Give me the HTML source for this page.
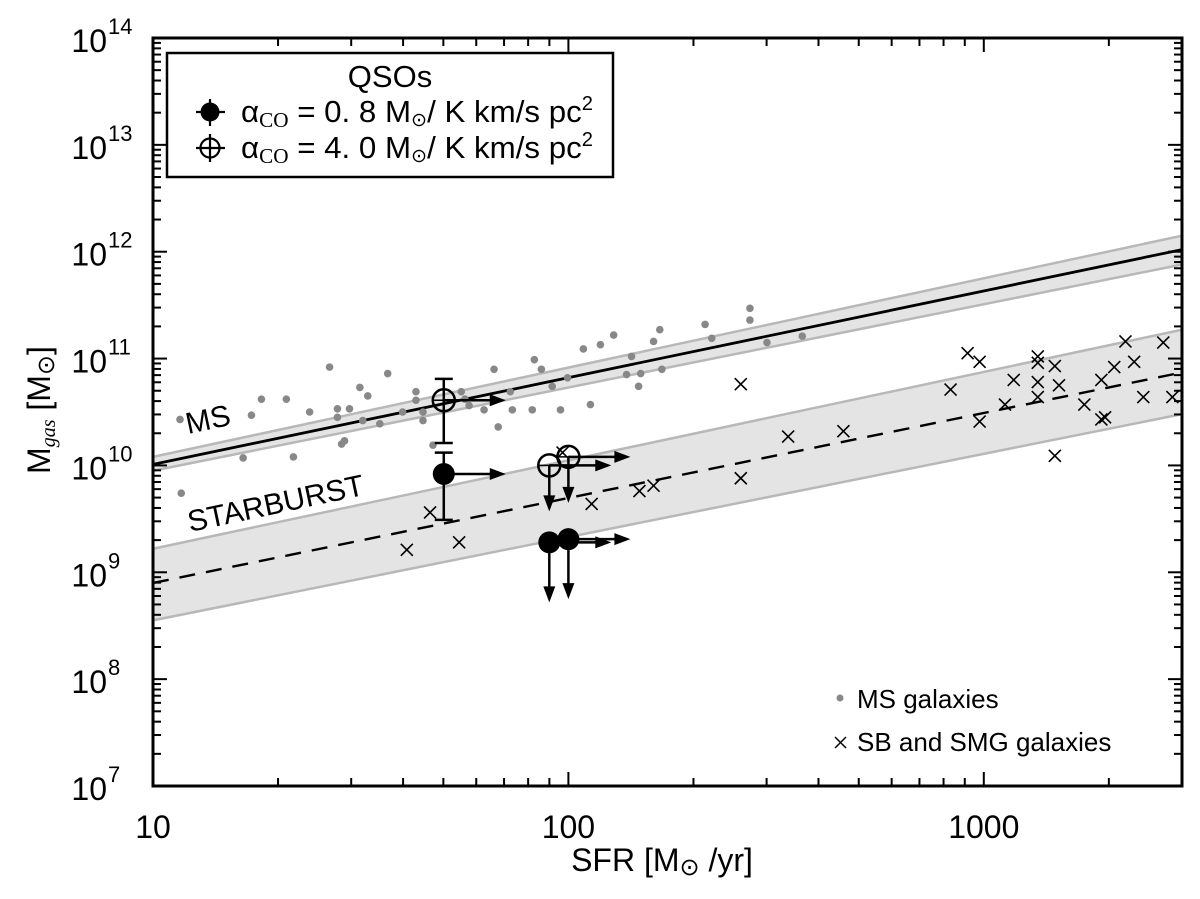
<!DOCTYPE html>
<html><head><meta charset="utf-8"><style>
body{margin:0;background:#fff;}
svg{display:block;font-family:"Liberation Sans",Arial,sans-serif;}
</style></head><body>
<svg id="chart" width="1200" height="899" viewBox="0 0 1200 899">
<g id="bands"></g>
<g id="marks"></g>
<g id="axes"></g>
<text x="188" y="434" font-size="30" transform="rotate(-12 188 434)">MS</text>
<text x="190" y="532" font-size="30" transform="rotate(-12 190 532)">STARBURST</text>
<g>
<rect x="167" y="53" width="446" height="124" fill="#fff" stroke="#000" stroke-width="2.5"/>
<text x="390" y="87" font-size="31" text-anchor="middle">QSOs</text>
<g>
<line x1="196" y1="112" x2="225" y2="112" stroke="#000" stroke-width="2.2"/><line x1="210" y1="99" x2="210" y2="126" stroke="#000" stroke-width="2.2"/>
<circle cx="210" cy="112" r="9.5" fill="#000"/>
<text x="241" y="122" font-size="31" textLength="352" lengthAdjust="spacingAndGlyphs">α<tspan font-size="21" font-family="Liberation Serif,serif" dy="5">CO</tspan><tspan dy="-5"> = 0. 8 M</tspan><tspan font-size="19" dy="4">⊙</tspan><tspan dy="-4">/ K km/s pc</tspan><tspan font-size="20" dy="-12">2</tspan></text>
</g>
<g>
<line x1="196" y1="148" x2="225" y2="148" stroke="#000" stroke-width="2.2"/><line x1="210" y1="134" x2="210" y2="162" stroke="#000" stroke-width="2.2"/>
<circle cx="210" cy="148" r="9.5" fill="none" stroke="#000" stroke-width="2.2"/>
<text x="241" y="158" font-size="31" textLength="352" lengthAdjust="spacingAndGlyphs">α<tspan font-size="21" font-family="Liberation Serif,serif" dy="5">CO</tspan><tspan dy="-5"> = 4. 0  M</tspan><tspan font-size="19" dy="4">⊙</tspan><tspan dy="-4">/ K km/s pc</tspan><tspan font-size="20" dy="-12">2</tspan></text>
</g>
</g>
<g>
<circle cx="840" cy="698" r="3.5" fill="#888"/>
<text x="857" y="708" font-size="26">MS galaxies</text>
<path d="M835 737 L846 748 M846 737 L835 748" stroke="#000" stroke-width="1.5"/>
<text x="857" y="751" font-size="26">SB and SMG galaxies</text>
</g>
<text x="662" y="871" font-size="32" text-anchor="middle">SFR [M<tspan font-size="24" dy="4">⊙</tspan><tspan dy="-4"> /yr]</tspan></text>
<text transform="translate(50 410) rotate(-90)" font-size="32" text-anchor="middle">M<tspan font-size="20" dy="5" font-family="Liberation Serif,serif" font-style="italic">gas</tspan><tspan dy="-5"> [M</tspan><tspan font-size="24" dy="4">⊙</tspan><tspan dy="-4">]</tspan></text>
</svg>
<script>
const msDots = [[1.065,10.43],[1.068,9.74],[1.217,10.07],[1.237,10.47],[1.261,10.62],[1.321,10.62],[1.338,10.08],[1.377,10.50],[1.425,10.92],[1.444,10.53],[1.444,10.45],[1.454,10.20],[1.461,10.23],[1.473,10.53],[1.498,10.73],[1.505,10.42],[1.517,10.65],[1.546,10.39],[1.565,10.86],[1.601,10.50],[1.633,10.69],[1.633,10.61],[1.650,10.50],[1.650,10.42],[1.674,10.19],[1.742,10.69],[1.751,10.62],[1.761,10.56],[1.797,10.52],[1.821,10.90],[1.831,10.36],[1.860,10.69],[1.865,10.52],[1.913,10.52],[1.918,10.99],[1.935,10.90],[1.961,10.74],[1.981,10.52],[1.998,10.82],[2.036,11.09],[2.053,10.57],[2.077,11.13],[2.109,11.22],[2.140,10.85],[2.152,11.02],[2.169,10.74],[2.174,10.86],[2.205,11.16],[2.220,11.27],[2.225,10.90],[2.329,11.32],[2.345,11.19],[2.437,11.47],[2.437,11.36],[2.478,11.15],[2.563,11.21]];
const sbCrosses = [[1.611,9.21],[1.667,9.56],[1.737,9.28],[1.986,10.12],[2.056,9.64],[2.171,9.76],[2.205,9.81],[2.415,9.88],[2.415,10.76],[2.529,10.27],[2.662,10.32],[2.920,10.71],[2.961,11.05],[2.990,10.97],[3.072,10.80],[3.051,10.57],[2.990,10.41],[3.130,11.02],[3.130,10.96],[3.130,10.78],[3.130,10.64],[3.171,10.93],[3.181,10.75],[3.171,10.09],[3.242,10.57],[3.283,10.80],[3.314,10.92],[3.283,10.43],[3.292,10.45],[3.341,11.16],[3.362,10.97],[3.384,10.64],[3.432,11.15],[3.454,10.64]];
const qsoSFR = [1.70, 1.70, 1.954, 2.0, 1.954, 2.0];
const qsoM = [10.61, 9.92, 10.00, 10.08, 9.28, 9.31];
const qsoFilled = [false, true, false, false, true, true];
const qsoErrHi = [10.81, 10.12, null, null, null, null];
const qsoErrLo = [10.21, 9.49, null, null, null, null];
const qsoUpper = [false, false, true, true, true, true];
const msLine = [10.01, 12.02];
const msBandHi = [10.08, 12.15];
const msBandLo = [9.95, 11.88];
const sbLine = [8.90, 10.87];
const sbBandHi = [9.22, 11.27];
const sbBandLo = [8.55, 10.48];
const xTicks = ["10","100","1000"];
const yTicks = ["7","8","9","10","11","12","13","14"];

const X0=153, X1=1182, Y0=38, Y1=786;
const LX0=1, LX1=Math.log10(3000), LY0=7, LY1=14;
const sx = l => X0 + (l-LX0)/(LX1-LX0)*(X1-X0);
const sy = l => Y1 - (l-LY0)/(LY1-LY0)*(Y1-Y0);
const NS='http://www.w3.org/2000/svg';
function mk(tag, attrs, parent){const e=document.createElementNS(NS,tag);for(const k in attrs)e.setAttribute(k,attrs[k]);parent.appendChild(e);return e;}
const bands=document.getElementById('bands'), marks=document.getElementById('marks'), axes=document.getElementById('axes');

function band(hi, lo, name){
  const p=mk('path',{d:`M${sx(LX0)} ${sy(hi[0])} L${sx(LX1)} ${sy(hi[1])} L${sx(LX1)} ${sy(lo[1])} L${sx(LX0)} ${sy(lo[0])} Z`,fill:'#e4e4e4'},bands);
  
  
  [hi,lo].forEach(a=>{const l=mk('line',{x1:sx(LX0),y1:sy(a[0]),x2:sx(LX1),y2:sy(a[1]),stroke:'#b8b8b8','stroke-width':2.5},bands);
    
    });
}
band(msBandHi, msBandLo, 'ms-band');
band(sbBandHi, sbBandLo, 'starburst-band');
let l1=mk('line',{x1:sx(LX0),y1:sy(msLine[0]),x2:sx(LX1),y2:sy(msLine[1]),stroke:'#000','stroke-width':2.8},bands);


let l2=mk('line',{x1:sx(LX0),y1:sy(sbLine[0]),x2:sx(LX1),y2:sy(sbLine[1]),stroke:'#000','stroke-width':2.4,'stroke-dasharray':'16 11'},bands);



msDots.forEach(d=>{const c=mk('circle',{cx:sx(d[0]),cy:sy(d[1]),r:3.8,fill:'#888'},marks);
  
  });
sbCrosses.forEach(d=>{const x=sx(d[0]),y=sy(d[1]);const p=mk('path',{d:`M${x-6} ${y-6} L${x+6} ${y+6} M${x+6} ${y-6} L${x-6} ${y+6}`,stroke:'#000','stroke-width':1.6},marks);
  
  });

function arrowH(x,y,len,g){mk('line',{x1:x,y1:y,x2:x+len-14,y2:y,stroke:'#000','stroke-width':2.5},g);mk('path',{d:`M${x+len} ${y} L${x+len-16} ${y-6} L${x+len-16} ${y+6} Z`,fill:'#000'},g);}
function arrowV(x,y,len,g){mk('line',{x1:x,y1:y,x2:x,y2:y+len-14,stroke:'#000','stroke-width':2.5},g);mk('path',{d:`M${x} ${y+len} L${x-6} ${y+len-16} L${x+6} ${y+len-16} Z`,fill:'#000'},g);}
qsoSFR.forEach((s,i)=>{
  const g=mk('g',{},marks);
  
  
  const x=sx(s),y=sy(qsoM[i]);
  if(qsoErrHi[i]!==null){const t=sy(qsoErrHi[i]),b=sy(qsoErrLo[i]);
    mk('line',{x1:x,y1:t,x2:x,y2:b,stroke:'#000','stroke-width':2.5},g);
    mk('line',{x1:x-9,y1:t,x2:x+9,y2:t,stroke:'#000','stroke-width':2.5},g);
    mk('line',{x1:x-9,y1:b,x2:x+9,y2:b,stroke:'#000','stroke-width':2.5},g);}
  arrowH(x,y,62,g);
  if(qsoUpper[i]) arrowV(x,y,qsoFilled[i]?60:46,g);
  if(qsoFilled[i]) mk('circle',{cx:x,cy:y,r:11,fill:'#000'},g);
  else{mk('circle',{cx:x,cy:y,r:11,fill:'none',stroke:'#000','stroke-width':2.5},g);
    mk('line',{x1:x-11,y1:y,x2:x+11,y2:y,stroke:'#000','stroke-width':1.5},g);}
});

const fr=mk('rect',{x:X0,y:Y0,width:X1-X0,height:Y1-Y0,fill:'none',stroke:'#000','stroke-width':3},axes);


for(let d=1; d<=3; d++){for(let m=1;m<=9;m++){const l=d+Math.log10(m);if(l>LX1+1e-6)break;const x=sx(l),L=m===1?14:8;
  mk('line',{x1:x,y1:Y1,x2:x,y2:Y1-L,stroke:'#000','stroke-width':2},axes);
  mk('line',{x1:x,y1:Y0,x2:x,y2:Y0+L,stroke:'#000','stroke-width':2},axes);}}
xTicks.forEach(t=>{const e=mk('text',{x:sx(Math.log10(+t)),y:838,'font-size':32,'text-anchor':'middle'},axes);e.textContent=t;
  
  });
for(let d=7; d<=14; d++){for(let m=1;m<=9;m++){const l=d+Math.log10(m);if(l>LY1+1e-6)break;const y=sy(l),L=m===1?14:8;
  mk('line',{x1:X0,y1:y,x2:X0+L,y2:y,stroke:'#000','stroke-width':2},axes);
  mk('line',{x1:X1,y1:y,x2:X1-L,y2:y,stroke:'#000','stroke-width':2},axes);}}
yTicks.forEach(t=>{const y=sy(+t);const e=mk('text',{x:107,y:y+14,'font-size':32,'text-anchor':'end'},axes);e.textContent='10';
  
  
  const s=mk('text',{x:108,y:y-4,'font-size':22},axes);s.textContent=t;
  
  });
</script>
</body></html>
